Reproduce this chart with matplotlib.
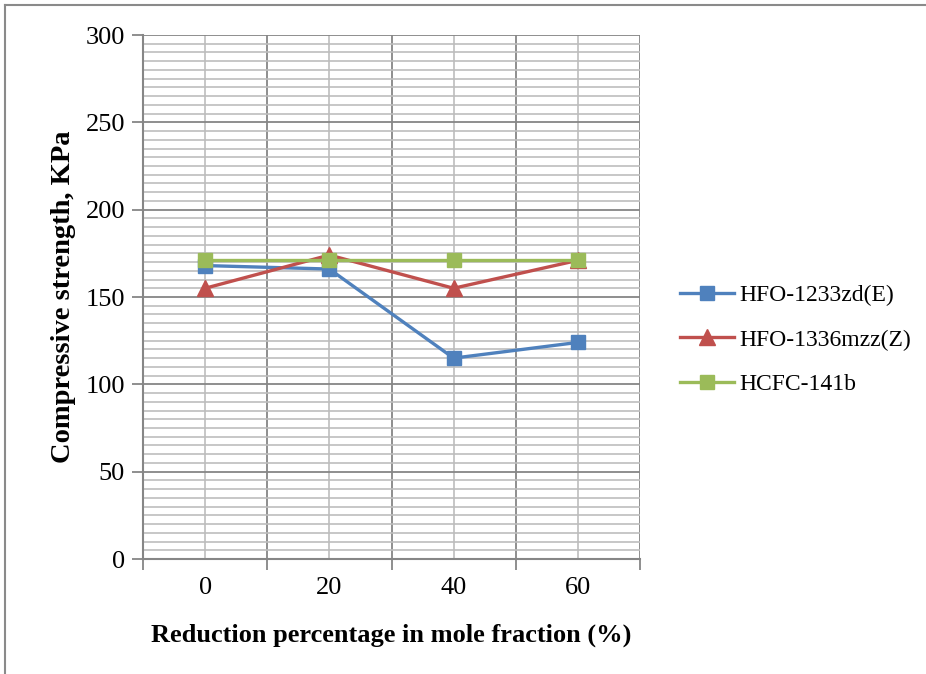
import matplotlib
matplotlib.use("Agg")
import matplotlib.pyplot as plt
from matplotlib.lines import Line2D
from matplotlib.ticker import MultipleLocator, FixedLocator, NullFormatter, FixedFormatter

categories = ["0", "20", "40", "60"]
hfo1233 = [168, 166, 115, 124]
hfo1336 = [155, 174, 155, 171]
hcfc141b = [171, 171, 171, 171]
series_names = ["HFO-1233zd(E)", "HFO-1336mzz(Z)", "HCFC-141b"]

plt.rcParams['font.family'] = ['Liberation Serif', 'DejaVu Serif']

fig = plt.figure(figsize=(9.26, 6.74), dpi=100)
ax = fig.add_axes([143/926, 1-559/674, (640-143)/926, (559-35)/674])

x = list(range(len(categories)))
blue, red, green = "#4F81BD", "#C0504D", "#9BBB59"
ax.plot(x, hfo1233, color=blue, lw=2.4, marker="s", ms=10, mec=blue, mfc=blue,
        label=series_names[0], zorder=3)
ax.plot(x, hfo1336, color=red, lw=2.4, marker="^", ms=11, mec=red, mfc=red,
        label=series_names[1], zorder=4)
ax.plot(x, hcfc141b, color=green, lw=2.4, marker="s", ms=10, mec=green, mfc=green,
        label=series_names[2], zorder=5)

ax.set_xlim(-0.5, len(categories) - 0.5)
ax.set_ylim(0, 300)
ax.yaxis.set_major_locator(MultipleLocator(50))
ax.yaxis.set_minor_locator(MultipleLocator(5))
ax.xaxis.set_major_locator(FixedLocator([i - 0.5 for i in range(len(categories) + 1)]))
ax.xaxis.set_major_formatter(NullFormatter())
ax.xaxis.set_minor_locator(FixedLocator(x))
ax.xaxis.set_minor_formatter(FixedFormatter(categories))

ax.grid(which="major", color="#868686", lw=1.3)
ax.grid(which="minor", color="#BDBDBD", lw=1.2)
ax.set_axisbelow(True)

for s in ["top", "right"]:
    ax.spines[s].set_visible(False)
for s in ["left", "bottom"]:
    ax.spines[s].set_color("#868686")
    ax.spines[s].set_linewidth(1.5)

ax.tick_params(axis="y", which="major", length=8, width=1.3, color="#868686",
               labelsize=19, pad=5)
ax.tick_params(axis="y", which="minor", length=0)
ax.tick_params(axis="x", which="major", length=8, width=1.3, color="#868686")
ax.tick_params(axis="x", which="minor", length=0, labelsize=19, pad=13)

ax.set_xlabel("Reduction percentage in mole fraction (%)", fontsize=19,
              fontweight="bold", labelpad=18)
ax.set_ylabel("Compressive strength, KPa", fontsize=20.5, fontweight="bold",
              labelpad=7)

fig.legend(loc="center left", bbox_to_anchor=(680/926, 1-340/674), frameon=False,
           fontsize=17, handlelength=2.3, labelspacing=0.98, handletextpad=0.2,
           borderpad=0, borderaxespad=0)

fig.add_artist(Line2D([5/926, 1], [1-5/674, 1-5/674], color="#8a8a8a", lw=1.5))
fig.add_artist(Line2D([5/926, 5/926], [0, 1-5/674], color="#8a8a8a", lw=1.5))

fig.savefig("out.png", dpi=100)
